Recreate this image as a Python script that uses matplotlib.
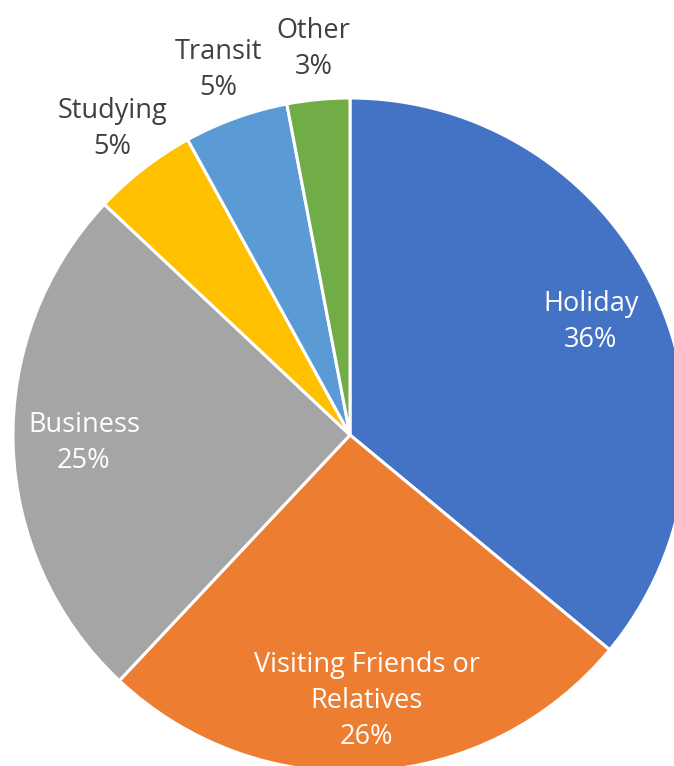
import numpy as np
import matplotlib.pyplot as plt

# travel purpose shares
labels = ["Holiday", "Visiting Friends or\nRelatives", "Business", "Studying", "Transit", "Other"]
values = [36, 26, 25, 5, 5, 3]
colors = ["#4472C4", "#ED7D31", "#A5A5A5", "#FFC000", "#5B9BD5", "#70AD47"]
inside = [True, True, True, False, False, False]

plt.rcParams['font.family'] = ['Open Sans', 'DejaVu Sans']

fig = plt.figure(figsize=(6.74, 7.66), dpi=100)
# pie centre ~ (350, 435) px, radius ~337 px
ax = fig.add_axes([13 / 674, (766 - 772) / 766, 674 / 674, 674 / 766])

wedges, _ = ax.pie(values, colors=colors, startangle=90, counterclock=False,
                   radius=1.0, wedgeprops=dict(edgecolor="white", linewidth=2.2))

for w, lab, v, ins in zip(wedges, labels, values, inside):
    ang = np.deg2rad((w.theta1 + w.theta2) / 2)
    r = 0.79 if ins else 1.15
    x, y = r * np.cos(ang), r * np.sin(ang)
    ax.text(x, y, f"{lab}\n{v}%", ha="center", va="center",
            fontsize=19.5, linespacing=1.38,
            color="white" if ins else "#404040")

ax.set_xlim(-1, 1)
ax.set_ylim(-1, 1)
ax.set_aspect("equal")
ax.axis("off")

fig.savefig("out.png", dpi=100)
